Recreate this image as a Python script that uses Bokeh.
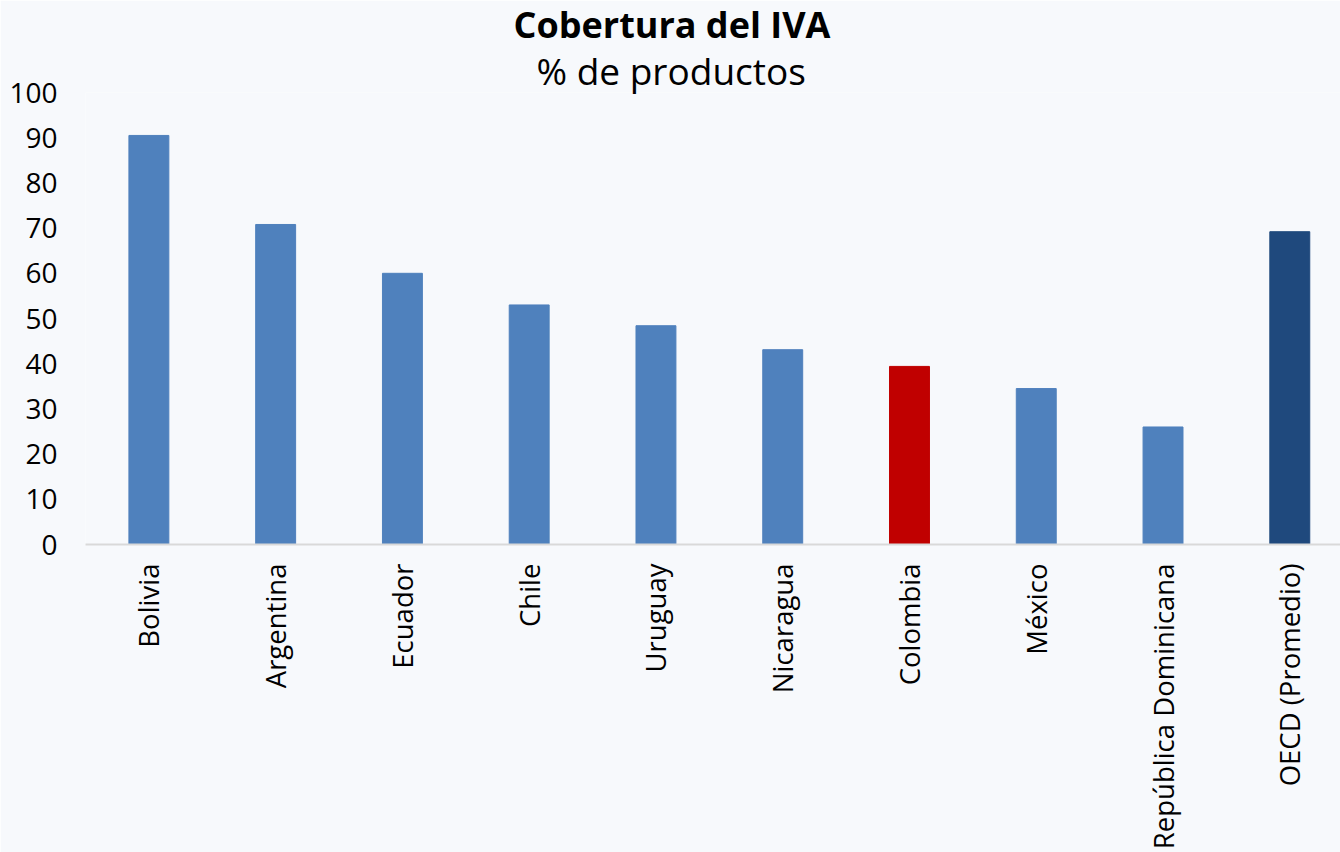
import math
from bokeh.plotting import figure
from bokeh.models import Range1d, Title, FixedTicker, ColumnDataSource
from bokeh.embed import file_html
from bokeh.resources import INLINE

countries = ["Bolivia", "Argentina", "Ecuador", "Chile", "Uruguay", "Nicaragua",
             "Colombia", "México", "República Dominicana", "OECD (Promedio)"]
coverage = [90.5, 70.8, 60.0, 53.0, 48.4, 43.1, 39.4, 34.5, 26.0, 69.2]
bar_colors = ["#4F81BD"] * 10
bar_colors[6] = "#C00000"
bar_colors[9] = "#1F497D"
y_ticks = [0, 10, 20, 30, 40, 50, 60, 70, 80, 90, 100]

FONT = "Open Sans"
BG = "#F7F9FC"

xs = list(range(len(countries)))
src = ColumnDataSource(dict(x=xs, top=coverage, color=bar_colors))

p = figure(width=1340, height=852, output_backend="svg", toolbar_location=None,
           x_range=Range1d(-0.5, 9.4), y_range=Range1d(0, 100),
           min_border_left=85, min_border_right=0, min_border_bottom=307,
           min_border_top=92, title=None)

p.vbar(x="x", top="top", width=0.315, color="color", source=src)

p.background_fill_color = BG
p.border_fill_color = BG
p.outline_line_color = None
p.xgrid.grid_line_color = None
p.ygrid.grid_line_color = None

# y axis
p.yaxis.ticker = FixedTicker(ticks=y_ticks)
p.yaxis.axis_line_color = None
p.yaxis.major_tick_line_color = None
p.yaxis.minor_tick_line_color = None
p.yaxis.major_label_text_font = FONT
p.yaxis.major_label_text_font_size = "28px"
p.yaxis.major_label_text_color = "#000000"
p.yaxis.major_label_standoff = 22

# x axis
p.xaxis.ticker = FixedTicker(ticks=xs)
p.xaxis.major_label_overrides = {i: c for i, c in enumerate(countries)}
p.xaxis.major_label_orientation = math.pi / 2
p.xaxis.axis_line_color = "#D9D9D9"
p.xaxis.axis_line_width = 2
p.xaxis.major_tick_line_color = None
p.xaxis.minor_tick_line_color = None
p.xaxis.major_label_text_font = FONT
p.xaxis.major_label_text_font_size = "27.5px"
p.xaxis.major_label_text_color = "#000000"
p.xaxis.major_label_standoff = 13

p.add_layout(Title(text="% de productos", align="left", text_font=FONT,
                   text_font_size="37px", text_font_style="normal",
                   text_line_height=1.0, offset=451,
                   text_color="#000000", standoff=-6), "above")
p.add_layout(Title(text="Cobertura del IVA", align="left", text_font=FONT,
                   text_font_size="36px", text_font_style="bold",
                   text_line_height=1.0, offset=428,
                   text_color="#000000", standoff=-6), "above")

open("out.html", "w").write(file_html(p, INLINE))
